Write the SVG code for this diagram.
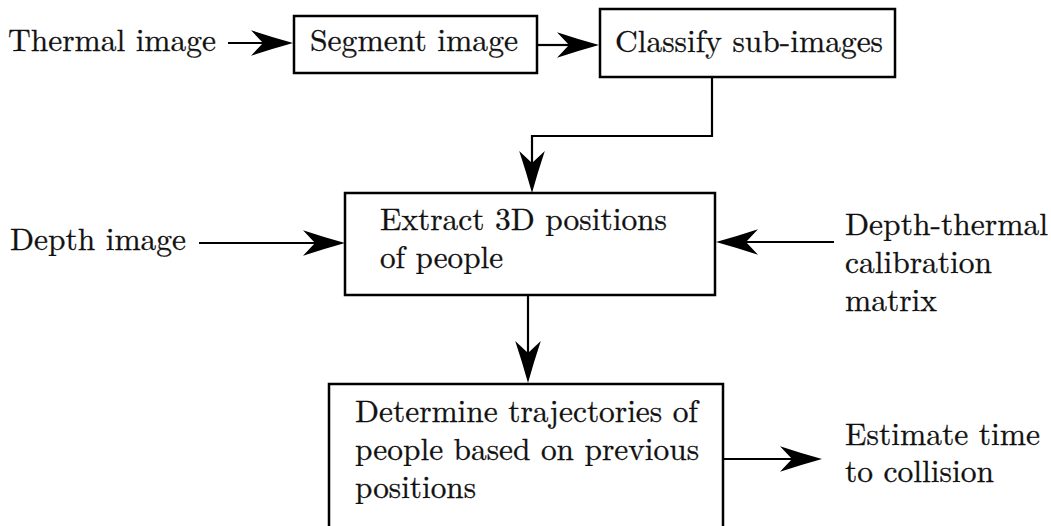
<svg xmlns="http://www.w3.org/2000/svg" width="1051" height="526" viewBox="0 0 1051 526">
  <style>
    .box { fill: #ffffff; stroke: #000000; stroke-width: 2.5; }
    .wire { fill: none; stroke: #000000; stroke-width: 2.2; }
    text { font-family: "Latin Modern Roman", "CMU Serif", "Noto Serif", "Liberation Serif", "DejaVu Serif", "Times New Roman", Times, serif; font-size: 31px; fill: #111111; stroke: #111111; stroke-width: 0.3; }
  </style>
  <defs>
    <!-- stealth-style arrowhead; the line ends at the notch (refX), the tip sits 30px further on -->
    <marker id="head" markerUnits="userSpaceOnUse" markerWidth="44" markerHeight="28"
            viewBox="0 -14 44 28" refX="12" refY="0" orient="auto" overflow="visible">
      <path d="M42 0 Q21 5.8 0 12.8 L12 0 L0 -12.8 Q21 -5.8 42 0 Z" fill="#000000"/>
    </marker>
  </defs>

  <rect width="1051" height="526" fill="#ffffff"/>

  <!-- free-standing inputs and outputs -->
  <g id="thermal-image">
    <text x="8" y="51" textLength="208" lengthAdjust="spacingAndGlyphs">Thermal image</text>
  </g>
  <g id="depth-image">
    <text x="10" y="250" textLength="176" lengthAdjust="spacingAndGlyphs">Depth image</text>
  </g>
  <g id="calibration-matrix">
    <text x="845" y="235" textLength="203" lengthAdjust="spacingAndGlyphs">Depth-thermal</text>
    <text x="845" y="273" textLength="147" lengthAdjust="spacingAndGlyphs">calibration</text>
    <text x="845" y="311" textLength="92" lengthAdjust="spacingAndGlyphs">matrix</text>
  </g>
  <g id="time-to-collision">
    <text x="845" y="445" textLength="195" lengthAdjust="spacingAndGlyphs">Estimate time</text>
    <text x="845" y="482" textLength="149" lengthAdjust="spacingAndGlyphs">to collision</text>
  </g>

  <!-- processing steps -->
  <g id="segment">
    <rect class="box" x="294" y="16" width="243" height="57"/>
    <text x="310" y="51" textLength="208" lengthAdjust="spacingAndGlyphs">Segment image</text>
  </g>
  <g id="classify">
    <rect class="box" x="600" y="9" width="295" height="68"/>
    <text x="615" y="52" textLength="268" lengthAdjust="spacingAndGlyphs">Classify sub-images</text>
  </g>
  <g id="extract">
    <rect class="box" x="345" y="193" width="370" height="102"/>
    <text x="380" y="230" textLength="287" lengthAdjust="spacingAndGlyphs">Extract 3D positions</text>
    <text x="380" y="268" textLength="123" lengthAdjust="spacingAndGlyphs">of people</text>
  </g>
  <g id="trajectories">
    <rect class="box" x="329" y="384" width="394" height="160"/>
    <text x="355" y="422" textLength="343" lengthAdjust="spacingAndGlyphs">Determine trajectories of</text>
    <text x="355" y="460" textLength="344" lengthAdjust="spacingAndGlyphs">people based on previous</text>
    <text x="355" y="498" textLength="121" lengthAdjust="spacingAndGlyphs">positions</text>
  </g>

  <!-- connectors -->
  <g id="connectors">
    <path class="wire" d="M228 43 H263" marker-end="url(#head)"/>
    <path class="wire" d="M537 45 H569" marker-end="url(#head)"/>
    <path class="wire" d="M712 77 V136 H532 V163" marker-end="url(#head)"/>
    <path class="wire" d="M199 243 H315" marker-end="url(#head)"/>
    <path class="wire" d="M834 242 H746" marker-end="url(#head)"/>
    <path class="wire" d="M528 295 V353" marker-end="url(#head)"/>
    <path class="wire" d="M723 459 H792" marker-end="url(#head)"/>
  </g>
</svg>
